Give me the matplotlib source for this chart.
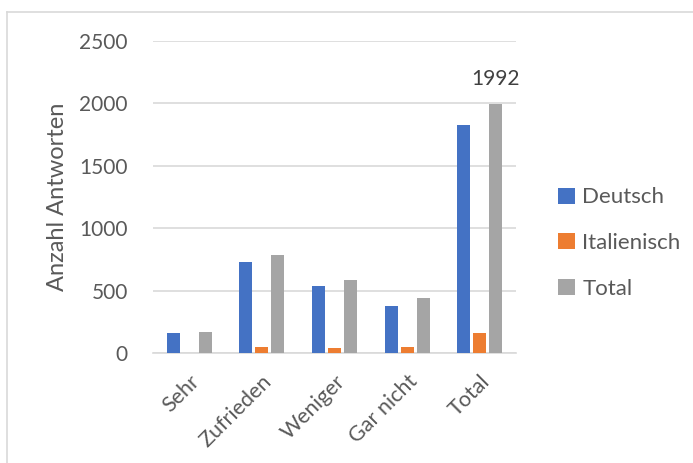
import matplotlib
matplotlib.use("Agg")
import matplotlib.pyplot as plt
from matplotlib.lines import Line2D
from matplotlib.patches import Patch
import numpy as np

plt.rcParams['font.family'] = ['Lato', 'DejaVu Sans']

categories = ["Sehr", "Zufrieden", "Weniger", "Gar nicht", "Total"]
deutsch = [162, 728, 541, 381, 1824]
italienisch = [6, 48, 43, 53, 160]
total = [168, 784, 589, 440, 1992]
series_names = ["Deutsch", "Italienisch", "Total"]
colors = ["#4472C4", "#ED7D31", "#A5A5A5"]
yticks = [0, 500, 1000, 1500, 2000, 2500]

W, H = 693, 463
fig = plt.figure(figsize=(W / 100, H / 100), dpi=100)
ax = fig.add_axes([153 / W, 1 - 353.3 / H, (516 - 153) / W, (353.3 - 40.7) / H])

x = np.arange(len(categories))
bw = 0.18
off = 0.22
txt = "#595959"
for i, (vals, c) in enumerate(zip([deutsch, italienisch, total], colors)):
    ax.bar(x + (i - 1) * off, vals, width=bw, color=c, zorder=3,
           label=series_names[i])

# data label for total-total
ax.annotate(str(total[-1]), xy=(x[-1] + off, total[-1]), xytext=(0, 11),
            textcoords="offset points", ha="center", va="bottom",
            fontsize=15, color="#404040")

ax.set_xlim(-0.5, len(categories) - 0.5)
ax.set_ylim(0, 2500)
ax.set_yticks(yticks)
ax.set_yticklabels([str(t) for t in yticks], fontsize=15, color=txt)
ax.yaxis.grid(True, color="#D9D9D9", linewidth=1.2, zorder=0)
ax.set_axisbelow(True)
for s in ["top", "right", "left"]:
    ax.spines[s].set_visible(False)
ax.spines["bottom"].set_color("#D9D9D9")
ax.spines["bottom"].set_linewidth(1.2)
ax.tick_params(axis="both", length=0)
ax.tick_params(axis="y", pad=18)
ax.set_xticks(x)
ax.set_xticklabels(categories, rotation=45, ha="right", rotation_mode="anchor",
                   fontsize=15.5, color=txt)
ax.tick_params(axis="x", pad=13)

fig.text(58 / W, 1 - 197 / H, "Anzahl Antworten", rotation=90, ha="center",
         va="center", fontsize=17, color=txt)

handles = [Patch(facecolor=c, edgecolor="none") for c in colors]
fig.legend(handles, series_names, loc="center left",
           bbox_to_anchor=(538 / W, 1 - 243 / H), frameon=False,
           fontsize=16, labelcolor=txt, handlelength=0.75, handleheight=0.75,
           handletextpad=0.35, labelspacing=1.15)

# outer chart border (top and left visible)
fig.add_artist(Line2D([7 / W, 7 / W], [0, 1 - 12 / H], transform=fig.transFigure,
                      color="#D9D9D9", linewidth=1.2))
fig.add_artist(Line2D([7 / W, 1], [1 - 12 / H, 1 - 12 / H], transform=fig.transFigure,
                      color="#D9D9D9", linewidth=1.2))

fig.savefig("out.png", dpi=100)
